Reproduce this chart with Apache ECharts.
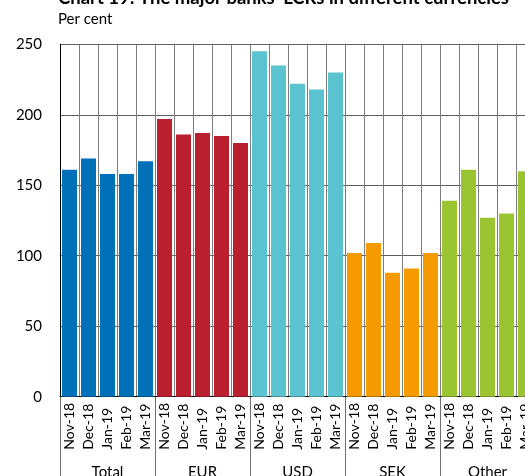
<!DOCTYPE html>
<html>
<head>
<meta charset="utf-8">
<script src="https://cdn.jsdelivr.net/npm/echarts@6/dist/echarts.min.js"></script>
<style>
  html, body { margin: 0; padding: 0; background: #ffffff; }
  #chart { width: 525px; height: 476px; }
</style>
</head>
<body>
<div id="chart"></div>
<script>
// Currency groups and the months shown within each group
const groups = ['Total', 'EUR', 'USD', 'SEK', 'Other'];
const months = ['Nov-18', 'Dec-18', 'Jan-19', 'Feb-19', 'Mar-19'];

// LCR per currency, per cent
const lcrTotal = [161, 169, 158, 158, 167];
const lcrEUR   = [197, 186, 187, 185, 180];
const lcrUSD   = [245, 235, 222, 218, 230];
const lcrSEK   = [102, 109, 88, 91, 102];
const lcrOther = [139, 161, 127, 130, 160];

const groupColors = ['#0070b9', '#b91f2e', '#5bc2d0', '#f59b00', '#9bc432'];

const seriesByGroup = [lcrTotal, lcrEUR, lcrUSD, lcrSEK, lcrOther];

// One category per (group, month) pair
const categories = [];
const barData = [];
groups.forEach(function (g, gi) {
  months.forEach(function (m, mi) {
    categories.push(g + '|' + m);
    barData.push({ value: seriesByGroup[gi][mi], itemStyle: { color: groupColors[gi] } });
  });
});

const labelFont = 'Lato, "Open Sans", sans-serif';

const chart = echarts.init(document.getElementById('chart'), null, { renderer: 'canvas' });
chart.setOption({
  animation: false,
  backgroundColor: '#ffffff',
  graphic: [
    {
      type: 'text', left: 58, top: -11,
      style: {
        text: "Chart 19: The major banks' LCRs in different currencies",
        font: 'bold 18.5px ' + labelFont, fill: '#000000'
      }
    },
    {
      type: 'text', left: 58, top: 12,
      style: { text: 'Per cent', font: '15px ' + labelFont, fill: '#000000' }
    }
  ],
  grid: {
    left: 60, top: 44.3, width: 475, height: 352.4,
    containLabel: false,
    outerBoundsMode: 'none'
  },
  xAxis: [
    {
      type: 'category',
      data: categories,
      boundaryGap: true,
      axisLine: { show: true, lineStyle: { color: '#000000', width: 1 } },
      axisTick: { show: false },
      splitLine: { show: true, interval: 0, lineStyle: { color: '#7d7d7d', width: 1 } },
      axisLabel: {
        interval: 0,
        rotate: 90,
        align: 'left',
        margin: 53,
        fontSize: 14,
        fontFamily: labelFont,
        color: '#000000',
        hideOverlap: false,
        formatter: function (v) { return v.split('|')[1]; }
      }
    },
    {
      type: 'category',
      data: groups,
      position: 'bottom',
      boundaryGap: true,
      axisLine: { show: false },
      axisTick: { show: true, interval: 0, length: 85, lineStyle: { color: '#707070', width: 1 } },
      splitLine: { show: false },
      axisLabel: {
        interval: 0,
        margin: 68,
        fontSize: 15,
        fontFamily: labelFont,
        color: '#000000'
      }
    }
  ],
  yAxis: {
    type: 'value',
    min: 0,
    max: 250,
    interval: 50,
    axisLine: { show: true, lineStyle: { color: '#000000', width: 1 } },
    axisTick: { show: false },
    splitLine: { show: true, lineStyle: { color: '#5e5e5e', width: 1 } },
    axisLabel: { margin: 18, fontSize: 15, fontFamily: labelFont, color: '#000000' }
  },
  series: [
    {
      type: 'bar',
      xAxisIndex: 0,
      data: barData,
      barWidth: 15,
      z: 3
    }
  ]
});
</script>
</body>
</html>
